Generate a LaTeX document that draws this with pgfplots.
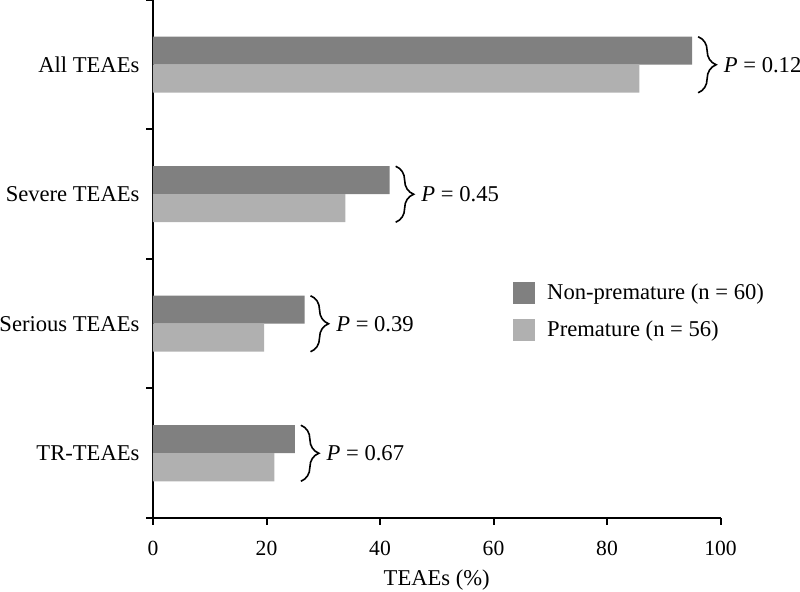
\documentclass[border=0pt]{standalone}
\usepackage{fontspec}
\setmainfont{Liberation Serif}
\usepackage{pgfplots}
\pgfplotsset{compat=1.18}
\usetikzlibrary{decorations.pathreplacing}
\definecolor{darkbar}{RGB}{128,128,128}
\definecolor{lightbar}{RGB}{176,176,176}

\begin{document}
\begin{tikzpicture}[font=\fontsize{11.3}{13}\selectfont]
\begin{axis}[
  name=ax,
  scale only axis, width=283.75pt, height=259pt,
  clip=false,
  xbar, bar width=14pt,
  xmin=0, xmax=100, ymin=0, ymax=4,
  axis x line=bottom, axis y line=left,
  axis line style={-, line width=1pt},
  tick align=outside, major tick length=3.25pt,
  tick style={line width=1pt, black},
  xtick={0,20,...,100},
  ytick={0,1,2,3,4}, yticklabels={},
  extra y ticks={0.5,1.5,2.5,3.5},
  extra y tick labels={TR-TEAEs,Serious TEAEs,Severe TEAEs,All TEAEs},
  extra y tick style={tick style={draw=none}},
  /pgf/number format/assume math mode=true,
  xticklabel style={font=\fontsize{10.8}{12}\selectfont, yshift=-5pt},
  xlabel={TEAEs (\%)},
  legend style={draw=none, fill=none, at={(axis cs:63.4,1.822)}, anchor=north west,
    inner sep=0pt, row sep=7.2pt, column sep=6pt, cells={anchor=west},
    nodes={inner sep=0pt}},
  legend cell align=left,
]
\addplot[fill=darkbar, draw=none, bar shift=7pt,
  legend image code/.code={\fill[darkbar] (0pt,-5.5pt) rectangle (11pt,5.5pt);}]
  coordinates {(95.0,3.5) (41.7,2.5) (26.7,1.5) (25.0,0.5)};
\addplot[fill=lightbar, draw=none, bar shift=-7pt,
  legend image code/.code={\fill[lightbar] (0pt,-5.5pt) rectangle (11pt,5.5pt);}]
  coordinates {(85.7,3.5) (33.9,2.5) (19.6,1.5) (21.4,0.5)};
\legend{Non-premature (n = 60), Premature (n = 56)}

% braces with P values
\draw[line width=0.8pt, decorate, decoration={brace, amplitude=9pt}]
  ([xshift=3pt,yshift=14pt]axis cs:95.0,3.5) -- ([xshift=3pt,yshift=-14pt]axis cs:95.0,3.5)
  node[midway, anchor=west, inner sep=0pt, xshift=12.5pt] {\textit{P} = 0.12};
\draw[line width=0.8pt, decorate, decoration={brace, amplitude=9pt}]
  ([xshift=3pt,yshift=14pt]axis cs:41.7,2.5) -- ([xshift=3pt,yshift=-14pt]axis cs:41.7,2.5)
  node[midway, anchor=west, inner sep=0pt, xshift=12.5pt] {\textit{P} = 0.45};
\draw[line width=0.8pt, decorate, decoration={brace, amplitude=9pt}]
  ([xshift=3pt,yshift=14pt]axis cs:26.7,1.5) -- ([xshift=3pt,yshift=-14pt]axis cs:26.7,1.5)
  node[midway, anchor=west, inner sep=0pt, xshift=12.5pt] {\textit{P} = 0.39};
\draw[line width=0.8pt, decorate, decoration={brace, amplitude=9pt}]
  ([xshift=3pt,yshift=14pt]axis cs:25.0,0.5) -- ([xshift=3pt,yshift=-14pt]axis cs:25.0,0.5)
  node[midway, anchor=west, inner sep=0pt, xshift=12.5pt] {\textit{P} = 0.67};
\end{axis}
\pgfresetboundingbox
\path ([xshift=-76.5pt,yshift=-37pt]ax.south west) rectangle ([xshift=39.75pt]ax.north east);
\end{tikzpicture}
\end{document}
